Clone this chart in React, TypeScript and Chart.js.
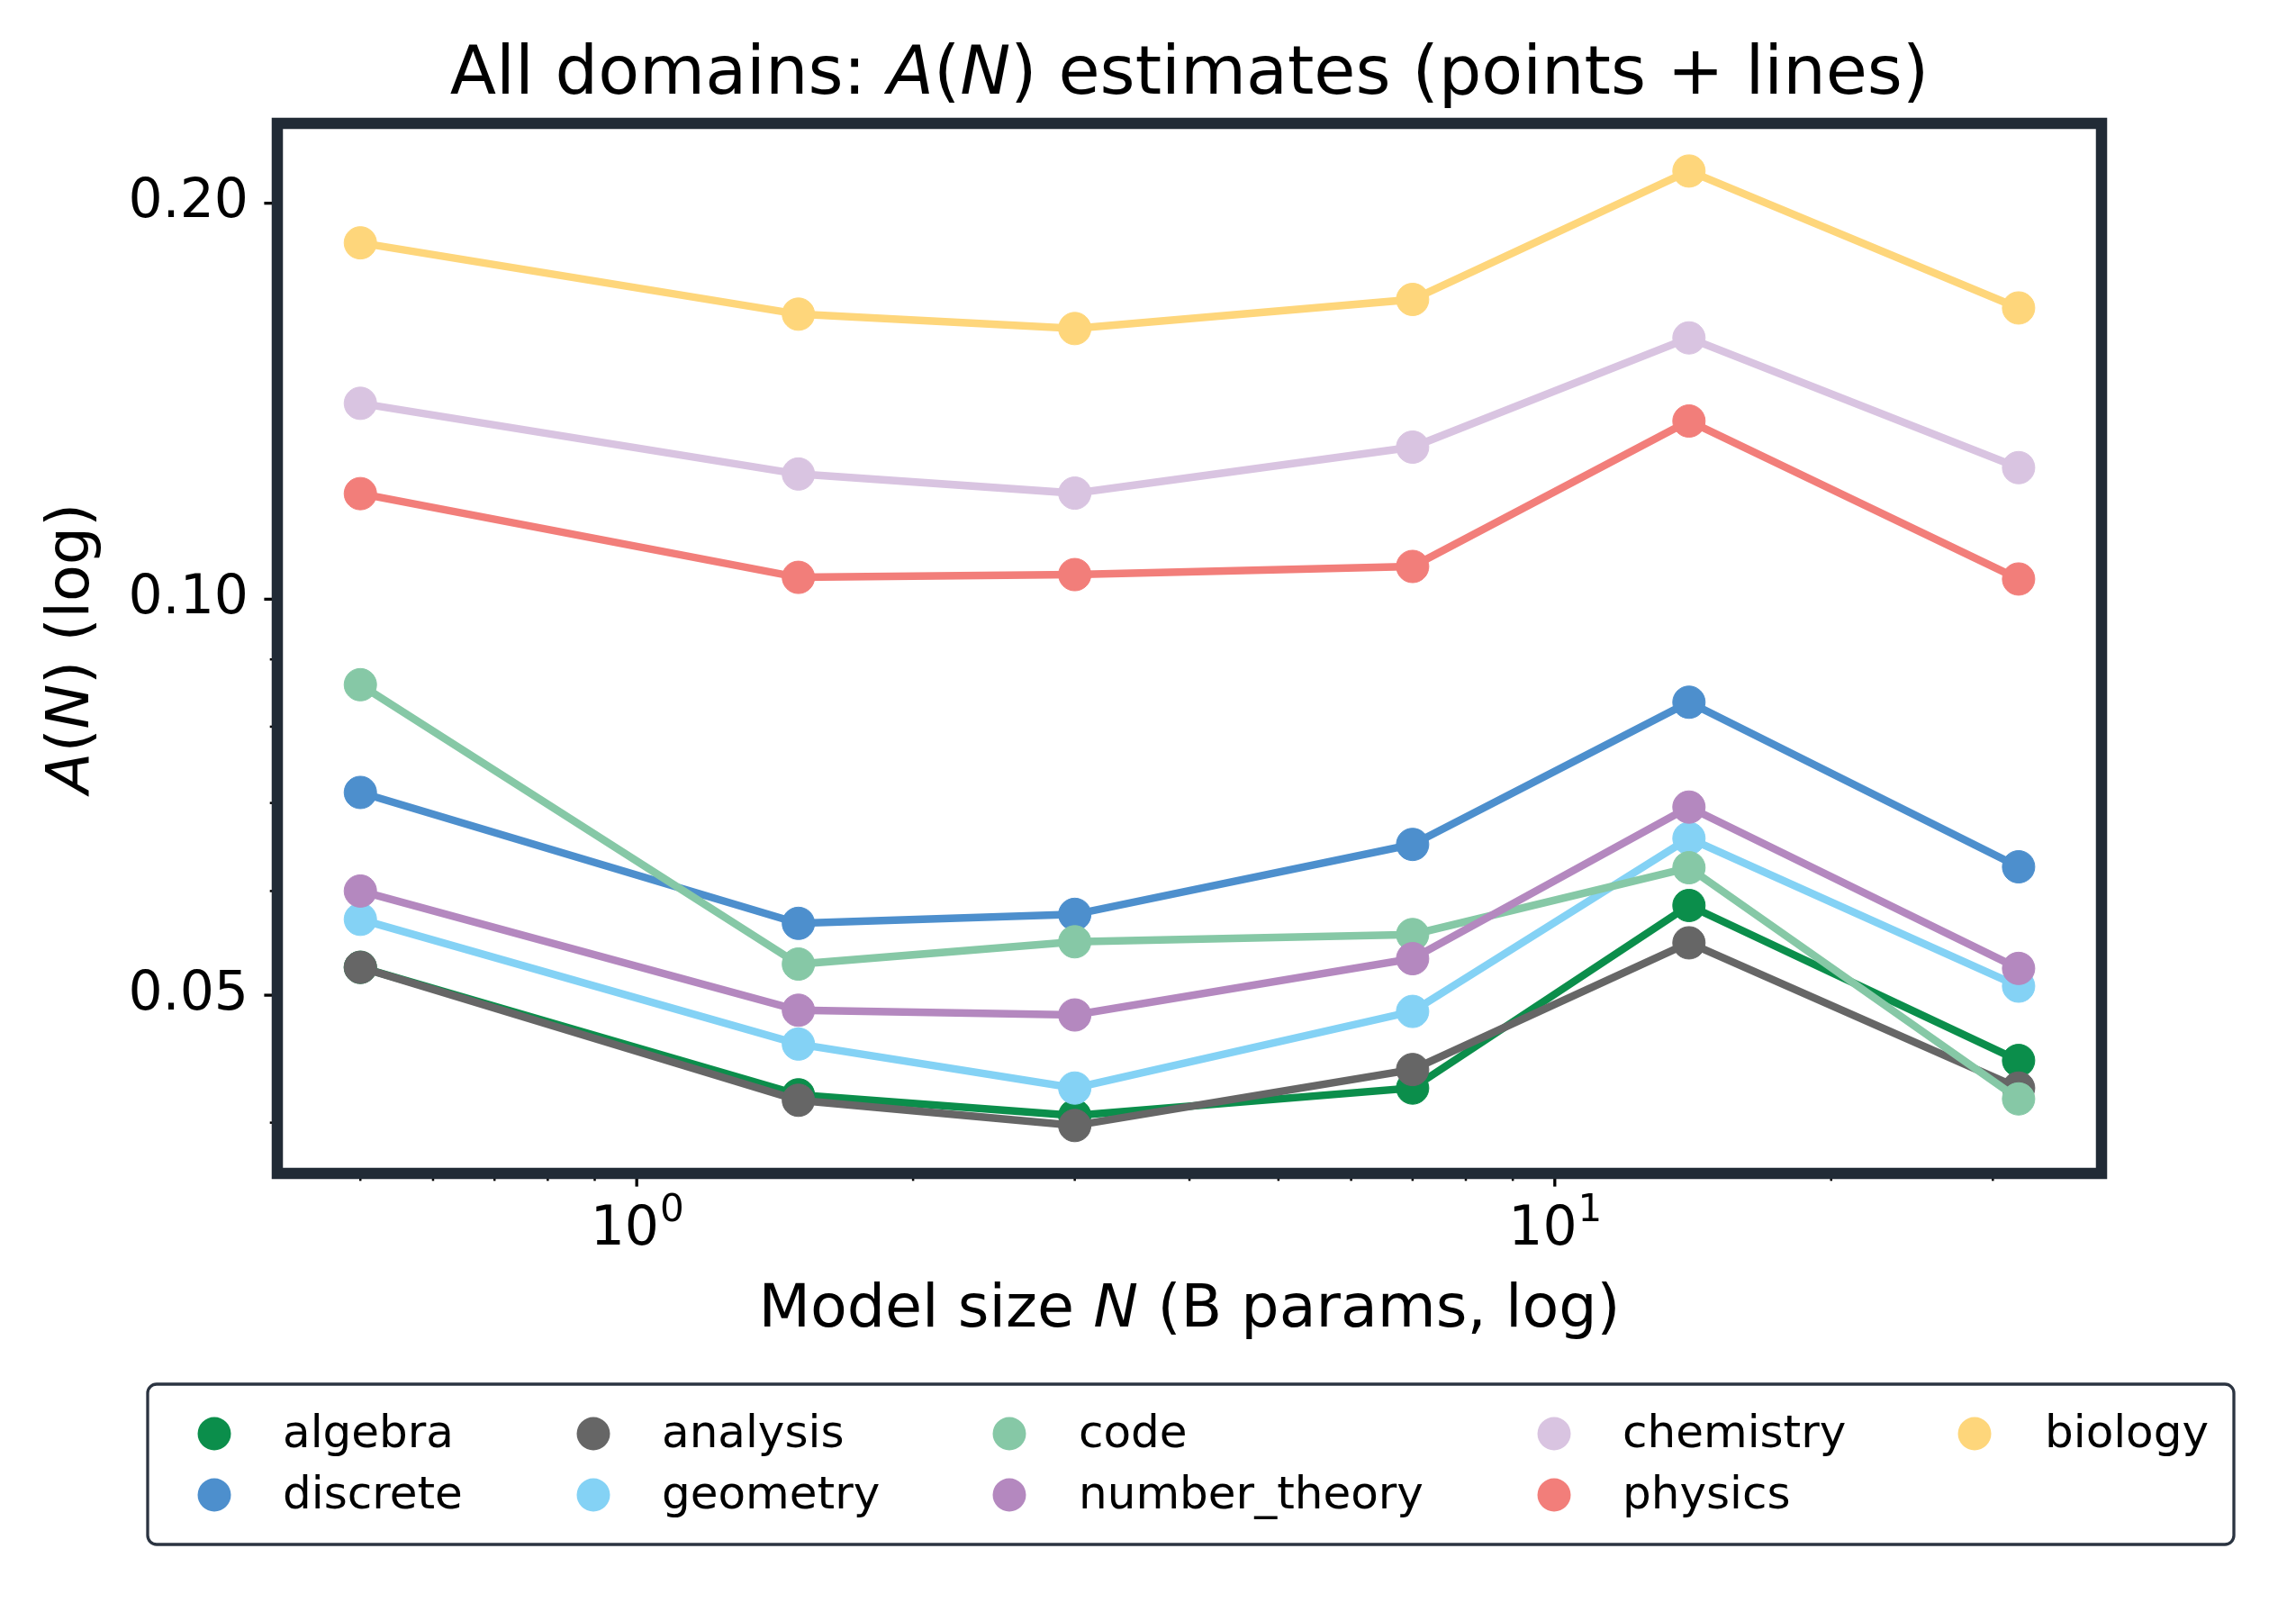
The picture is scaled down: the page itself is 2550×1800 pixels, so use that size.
import React, { useEffect, useRef } from 'react';
import { Chart, registerables } from 'chart.js';

Chart.register(...registerables);

// ---------------- data ----------------
const N_VALUES = [0.5, 1.5, 3, 7, 14, 32];

const ALGEBRA = [0.0525, 0.042, 0.0405, 0.0425, 0.0585, 0.0446];
const DISCRETE = [0.0713, 0.0567, 0.0576, 0.0651, 0.0835, 0.0626];
const ANALYSIS = [0.0525, 0.0416, 0.0398, 0.0439, 0.0548, 0.0425];
const GEOMETRY = [0.0571, 0.0459, 0.0425, 0.0486, 0.0658, 0.0508];
const CODE = [0.0861, 0.0528, 0.0549, 0.0556, 0.0625, 0.0417];
const NUMBER_THEORY = [0.06, 0.0487, 0.0483, 0.0533, 0.0695, 0.0524];
const CHEMISTRY = [0.1409, 0.1245, 0.1204, 0.1305, 0.158, 0.1259];
const PHYSICS = [0.1203, 0.1039, 0.1044, 0.1059, 0.1366, 0.1036];
const BIOLOGY = [0.1866, 0.1647, 0.1606, 0.169, 0.2116, 0.1665];

const SERIES_NAMES = ['algebra', 'discrete', 'analysis', 'geometry', 'code', 'number_theory', 'chemistry', 'physics', 'biology'];
const SERIES_VALUES = [ALGEBRA, DISCRETE, ANALYSIS, GEOMETRY, CODE, NUMBER_THEORY, CHEMISTRY, PHYSICS, BIOLOGY];
const SERIES_COLORS = ['#0b8e4b', '#4d8fcd', '#666666', '#84d2f5', '#86c8a6', '#b488bf', '#d9c4e1', '#f27e7a', '#fed67b'];

const X_MIN = 0.406;
const X_MAX = 39.4;
const Y_MIN = 0.0366;
const Y_MAX = 0.23;

const X_MAJOR_TICKS = [1, 10];
const X_MINOR_TICKS = [0.5, 0.6, 0.7, 0.8, 0.9, 2, 3, 4, 5, 6, 7, 8, 9, 20, 30];
// tick label as [base, exponent]
const X_TICK_LABELS: Record<number, [string, string]> = { 1: ['10', '0'], 10: ['10', '1'] };
const Y_MAJOR_TICKS = [0.05, 0.1, 0.2];
const Y_MINOR_TICKS = [0.04, 0.06, 0.07, 0.08, 0.09];

const TITLE_SEGMENTS: [string, boolean][] = [
  ['All domains: ', false], ['A', true], ['(', false], ['N', true], [') estimates (points + lines)', false],
];
const X_TITLE_SEGMENTS: [string, boolean][] = [['Model size ', false], ['N', true], [' (B params, log)', false]];
const Y_TITLE_SEGMENTS: [string, boolean][] = [['A', true], ['(', false], ['N', true], [') (log)', false]];

// ---------------- styling ----------------
const FONT = "'DejaVu Sans', 'Noto Sans', sans-serif";
const FRAME_COLOR = '#212b36';
const LEGEND_EDGE = '#2b3441';
const TICK_FONT_SIZE = 60;

function drawRich(ctx: CanvasRenderingContext2D, segs: [string, boolean][], size: number, x: number, y: number) {
  const fontOf = (it: boolean) => `${it ? 'oblique ' : ''}${size}px ${FONT}`;
  let total = 0;
  const widths = segs.map(([t, it]) => {
    ctx.font = fontOf(it);
    const w = ctx.measureText(t).width;
    total += w;
    return w;
  });
  let cx = x - total / 2;
  ctx.textAlign = 'left';
  ctx.textBaseline = 'alphabetic';
  segs.forEach(([t, it], i) => {
    ctx.font = fontOf(it);
    ctx.fillText(t, cx, y);
    cx += widths[i];
  });
}

const decorPlugin = {
  id: 'decor',
  afterDatasetsDraw(chart: any) {
    const ctx: CanvasRenderingContext2D = chart.ctx;
    const a = chart.chartArea;
    const xs = chart.scales.x;
    const ys = chart.scales.y;
    ctx.save();
    ctx.strokeStyle = '#000';
    const seg = (x1: number, y1: number, x2: number, y2: number, w: number) => {
      ctx.lineWidth = w;
      ctx.beginPath();
      ctx.moveTo(x1, y1);
      ctx.lineTo(x2, y2);
      ctx.stroke();
    };
    Y_MAJOR_TICKS.forEach((v) => { const y = ys.getPixelForValue(v); seg(a.left, y, a.left - 14.6, y, 3.3); });
    Y_MINOR_TICKS.forEach((v) => { const y = ys.getPixelForValue(v); seg(a.left, y, a.left - 8.3, y, 2.5); });
    X_MAJOR_TICKS.forEach((v) => { const x = xs.getPixelForValue(v); seg(x, a.bottom, x, a.bottom + 14.6, 3.3); });
    X_MINOR_TICKS.forEach((v) => { const x = xs.getPixelForValue(v); seg(x, a.bottom, x, a.bottom + 8.3, 2.5); });
    // frame
    ctx.lineWidth = 12.5;
    ctx.lineJoin = 'miter';
    ctx.strokeStyle = FRAME_COLOR;
    ctx.strokeRect(a.left, a.top, a.right - a.left, a.bottom - a.top);

    // x tick labels with superscript exponent (positioned from the scale)
    ctx.fillStyle = '#000';
    ctx.textAlign = 'left';
    ctx.textBaseline = 'alphabetic';
    xs.ticks.forEach((t: any) => {
      const lab = X_TICK_LABELS[t.value];
      if (!lab) return;
      const x = xs.getPixelForValue(t.value);
      const supSize = TICK_FONT_SIZE * 0.7;
      ctx.font = `${TICK_FONT_SIZE}px ${FONT}`;
      const wb = ctx.measureText(lab[0]).width;
      ctx.font = `${supSize}px ${FONT}`;
      const ws = ctx.measureText(lab[1]).width;
      const x0 = x - (wb + ws) / 2;
      const base = a.bottom + 79;
      ctx.font = `${TICK_FONT_SIZE}px ${FONT}`;
      ctx.fillText(lab[0], x0, base);
      ctx.font = `${supSize}px ${FONT}`;
      ctx.fillText(lab[1], x0 + wb + 1, base - 26);
    });
    ctx.restore();
  },
  afterDraw(chart: any) {
    const ctx: CanvasRenderingContext2D = chart.ctx;
    const a = chart.chartArea;
    const cx = (a.left + a.right) / 2;
    const cy = (a.top + a.bottom) / 2;
    ctx.save();
    ctx.fillStyle = '#000';
    drawRich(ctx, TITLE_SEGMENTS, 75, cx, 104);
    drawRich(ctx, X_TITLE_SEGMENTS, 66.7, cx, 1473);
    ctx.save();
    ctx.translate(98, cy);
    ctx.rotate(-Math.PI / 2);
    drawRich(ctx, Y_TITLE_SEGMENTS, 66.7, 0, 0);
    ctx.restore();

    // legend
    const lx = 164, ly = 1537, lw = 2317, lh = 178;
    ctx.beginPath();
    if ((ctx as any).roundRect) (ctx as any).roundRect(lx, ly, lw, lh, 10);
    else ctx.rect(lx, ly, lw, lh);
    ctx.fillStyle = '#fff';
    ctx.fill();
    ctx.lineWidth = 3.3;
    ctx.strokeStyle = LEGEND_EDGE;
    ctx.stroke();
    const colMarkerX = [238, 659, 1121, 1726, 2193];
    const colTextX = [314, 735, 1198, 1802, 2271];
    const rowY = [1592, 1660];
    chart.data.datasets.forEach((ds: any, i: number) => {
      const col = Math.floor(i / 2);
      const row = i % 2;
      const y = rowY[row];
      ctx.beginPath();
      ctx.arc(colMarkerX[col], y, 18.5, 0, Math.PI * 2);
      ctx.fillStyle = ds.backgroundColor;
      ctx.fill();
      ctx.fillStyle = '#000';
      ctx.font = `50px ${FONT}`;
      ctx.textAlign = 'left';
      ctx.textBaseline = 'alphabetic';
      ctx.fillText(ds.label, colTextX[col], y + 15);
    });
    ctx.restore();
  },
};

export default function App() {
  const ref = useRef<HTMLCanvasElement | null>(null);

  useEffect(() => {
    document.body.style.margin = '0';
    const canvas = ref.current;
    if (!canvas) return;
    const datasets = SERIES_NAMES.map((name, i) => ({
      label: name,
      data: N_VALUES.map((n, j) => ({ x: n, y: SERIES_VALUES[i][j] })),
      borderColor: SERIES_COLORS[i],
      backgroundColor: SERIES_COLORS[i],
      pointBackgroundColor: SERIES_COLORS[i],
      pointBorderColor: SERIES_COLORS[i],
      borderWidth: 8.5,
      pointRadius: 18,
      pointBorderWidth: 1,
      pointHoverRadius: 18,
      tension: 0,
      fill: false,
      order: SERIES_NAMES.length - i,
    }));

    const chart = new Chart(canvas, {
      type: 'line',
      data: { datasets },
      options: {
        animation: false,
        responsive: false,
        maintainAspectRatio: false,
        devicePixelRatio: 1,
        events: [],
        layout: { padding: { left: 0, top: 137, right: 216, bottom: 0 } },
        plugins: { legend: { display: false }, title: { display: false }, tooltip: { enabled: false } },
        scales: {
          x: {
            type: 'logarithmic',
            min: X_MIN,
            max: X_MAX,
            bounds: 'data',
            grid: { display: false, drawTicks: false, tickLength: 0 },
            border: { display: false },
            ticks: {
              display: false,
              autoSkip: false,
              maxRotation: 0,
              minRotation: 0,
              padding: 24,
              color: '#000',
              font: { size: TICK_FONT_SIZE, family: FONT },
            },
            afterBuildTicks: (s: any) => { s.ticks = X_MAJOR_TICKS.map((v) => ({ value: v })); },
            afterFit: (s: any) => { s.height = 497; },
          },
          y: {
            type: 'logarithmic',
            min: Y_MIN,
            max: Y_MAX,
            bounds: 'data',
            grid: { display: false, drawTicks: false, tickLength: 0 },
            border: { display: false },
            ticks: {
              autoSkip: false,
              padding: 32,
              color: '#000',
              font: { size: TICK_FONT_SIZE, family: FONT },
              callback: (v: any) => Number(v).toFixed(2),
            },
            afterBuildTicks: (s: any) => { s.ticks = Y_MAJOR_TICKS.map((v) => ({ value: v })); },
            afterFit: (s: any) => { s.width = 308; },
          },
        },
      } as any,
      plugins: [decorPlugin],
    });
    return () => chart.destroy();
  }, []);

  return (
    <div style={{ position: 'absolute', left: 0, top: 0, width: 2550, height: 1800, background: '#fff' }}>
      <canvas ref={ref} width={2550} height={1800} style={{ width: 2550, height: 1800, display: 'block' }} />
    </div>
  );
}
